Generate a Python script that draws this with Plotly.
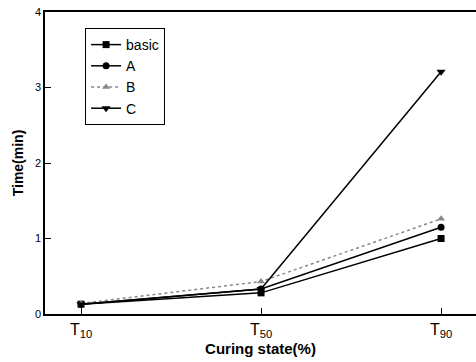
import plotly.graph_objects as go

categories = ["T<sub>10</sub>", "T<sub>50</sub>", "T<sub>90</sub>"]
x_pos = [0, 1, 2]
basic = [0.13, 0.28, 1.0]
A = [0.13, 0.33, 1.15]
B = [0.14, 0.43, 1.26]
C = [0.13, 0.33, 3.21]

fig = go.Figure()
styles = [
    ("basic", basic, "square", "black", "solid", 7),
    ("A", A, "circle", "black", "solid", 7),
    ("B", B, "triangle-up", "#888888", "dot", 7),
    ("C", C, "triangle-down", "black", "solid", 8),
]
for name, ys, sym, col, dash, sz in styles:
    fig.add_trace(go.Scatter(
        x=x_pos, y=ys, name=name, mode="lines+markers",
        line=dict(color=col, width=1.5, dash=dash),
        marker=dict(symbol=sym, size=sz, color=col),
    ))

fig.update_layout(
    width=476, height=362,
    margin=dict(l=45, r=0, t=12, b=48),
    plot_bgcolor="white", paper_bgcolor="white",
    font=dict(family="Liberation Sans, Arial", color="black", size=12),
    legend=dict(x=0.093, y=0.947, xanchor="left", yanchor="top",
                bordercolor="black", borderwidth=1, bgcolor="white",
                font=dict(size=14), tracegroupgap=0, itemwidth=30),
    showlegend=True,
)
fig.update_xaxes(
    range=[-0.2, 2.194], tickvals=x_pos, ticktext=categories,
    showline=True, linecolor="black", linewidth=1.5, mirror=True,
    ticks="inside", ticklen=6, tickcolor="black", showgrid=False, zeroline=False,
    tickfont=dict(size=16),
    title=dict(text="<b>Curing state(%)</b>", font=dict(size=15), standoff=4),
)
fig.update_yaxes(
    range=[0, 4], tickvals=[0, 1, 2, 3, 4],
    showline=True, linecolor="black", linewidth=1.5, mirror=False,
    ticks="inside", ticklen=6, tickcolor="black", showgrid=False, zeroline=False,
    tickfont=dict(size=11),
    title=dict(text="<b>Time(min)</b>", font=dict(size=14), standoff=8),
)
fig.write_html("out.html")
